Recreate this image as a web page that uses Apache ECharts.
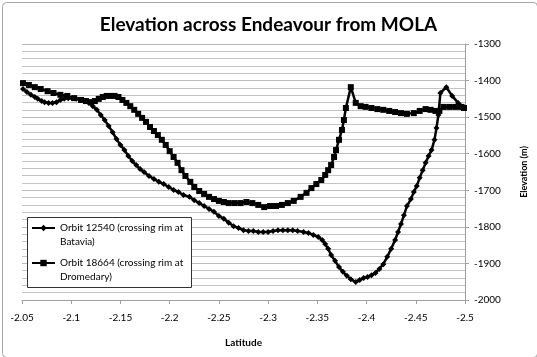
<!DOCTYPE html>
<html>
<head>
<meta charset="utf-8">
<script src="https://cdn.jsdelivr.net/npm/echarts@6/dist/echarts.min.js"></script>
<style>
html,body{margin:0;padding:0;background:#fff;}
#c{width:537px;height:357px;}
</style>
</head>
<body>
<div id="c"></div>
<script>
var titleText = 'Elevation across Endeavour from MOLA';
var nameA = 'Orbit 12540 (crossing rim at\nBatavia)';
var nameB = 'Orbit 18664 (crossing rim at\nDromedary)';
var xTicks = [-2.5, -2.05, 0.05];
var yTicks = [-2000, -1300, 100];

var latA = [-2.051,-2.055,-2.059,-2.063,-2.066,-2.070,-2.073,-2.077,-2.081,-2.085,-2.089,-2.093,-2.097,-2.101,-2.105,-2.110,-2.114,-2.118,-2.122,-2.126,-2.130,-2.134,-2.138,-2.142,-2.146,-2.150,-2.154,-2.158,-2.162,-2.166,-2.170,-2.174,-2.179,-2.184,-2.189,-2.194,-2.199,-2.204,-2.209,-2.214,-2.220,-2.225,-2.230,-2.235,-2.240,-2.245,-2.250,-2.255,-2.260,-2.265,-2.270,-2.275,-2.280,-2.285,-2.290,-2.295,-2.300,-2.305,-2.310,-2.315,-2.320,-2.325,-2.330,-2.336,-2.341,-2.346,-2.351,-2.355,-2.358,-2.361,-2.364,-2.368,-2.372,-2.376,-2.380,-2.384,-2.389,-2.393,-2.397,-2.401,-2.405,-2.409,-2.413,-2.417,-2.421,-2.425,-2.429,-2.432,-2.435,-2.438,-2.441,-2.445,-2.448,-2.451,-2.454,-2.457,-2.460,-2.463,-2.466,-2.469,-2.471,-2.473,-2.475,-2.481,-2.487,-2.493,-2.499];
var elevA = [-1423,-1431,-1439,-1445,-1450,-1456,-1459,-1461,-1461,-1459,-1453,-1450,-1448,-1448,-1450,-1453,-1456,-1461,-1470,-1480,-1494,-1508,-1524,-1541,-1560,-1576,-1590,-1606,-1620,-1631,-1642,-1650,-1661,-1669,-1677,-1683,-1691,-1699,-1705,-1713,-1718,-1727,-1735,-1743,-1751,-1759,-1770,-1778,-1789,-1798,-1803,-1809,-1811,-1811,-1814,-1814,-1814,-1811,-1809,-1809,-1809,-1809,-1811,-1814,-1817,-1822,-1828,-1836,-1847,-1860,-1877,-1893,-1910,-1923,-1934,-1943,-1951,-1945,-1940,-1937,-1932,-1926,-1915,-1902,-1882,-1860,-1836,-1814,-1792,-1768,-1743,-1724,-1705,-1688,-1666,-1645,-1625,-1606,-1590,-1562,-1530,-1494,-1434,-1418,-1442,-1461,-1472];

var latB = [-2.051,-2.057,-2.063,-2.069,-2.076,-2.082,-2.089,-2.096,-2.103,-2.110,-2.115,-2.120,-2.124,-2.128,-2.132,-2.136,-2.140,-2.144,-2.148,-2.152,-2.156,-2.160,-2.164,-2.168,-2.172,-2.176,-2.180,-2.184,-2.188,-2.192,-2.196,-2.200,-2.204,-2.208,-2.212,-2.216,-2.221,-2.225,-2.230,-2.235,-2.240,-2.245,-2.250,-2.255,-2.260,-2.266,-2.272,-2.278,-2.284,-2.290,-2.296,-2.302,-2.308,-2.314,-2.320,-2.326,-2.333,-2.339,-2.344,-2.349,-2.354,-2.358,-2.361,-2.364,-2.367,-2.369,-2.372,-2.375,-2.377,-2.379,-2.384,-2.389,-2.394,-2.399,-2.405,-2.411,-2.417,-2.423,-2.429,-2.435,-2.441,-2.448,-2.454,-2.460,-2.465,-2.470,-2.474,-2.478,-2.484,-2.490,-2.496,-2.499];
var elevB = [-1407,-1412,-1418,-1423,-1429,-1434,-1439,-1442,-1448,-1453,-1456,-1459,-1456,-1450,-1445,-1442,-1442,-1442,-1445,-1453,-1461,-1470,-1480,-1491,-1502,-1513,-1527,-1538,-1549,-1562,-1576,-1593,-1609,-1625,-1645,-1661,-1677,-1691,-1702,-1710,-1718,-1724,-1729,-1732,-1735,-1735,-1735,-1732,-1735,-1740,-1746,-1743,-1743,-1740,-1735,-1729,-1718,-1707,-1694,-1683,-1672,-1658,-1645,-1631,-1609,-1590,-1562,-1535,-1508,-1475,-1418,-1461,-1470,-1472,-1475,-1478,-1480,-1483,-1486,-1489,-1491,-1489,-1483,-1478,-1480,-1483,-1483,-1472,-1472,-1472,-1472,-1475];

function zip(a, b) { return a.map(function (v, i) { return [v, b[i]]; }); }

var FONT = 'Lato';
var chart = echarts.init(document.getElementById('c'), null, {renderer: 'canvas'});
chart.setOption({
  animation: false,
  backgroundColor: '#ffffff',
  textStyle: {fontFamily: FONT},
  title: {
    text: titleText, left: 'center', top: 10,
    textStyle: {fontFamily: FONT, fontSize: 19, fontWeight: 'bold', color: '#000'}
  },
  graphic: [{
    type: 'rect', left: 0, top: 0, z: -10, silent: true,
    shape: {x: 0.5, y: 0.5, width: 535, height: 355, r: 4},
    style: {fill: 'none', stroke: '#a6a6a6', lineWidth: 1}
  }, {
    type: 'rect', z: 3, silent: true,
    shape: {x: 27.5, y: 217.5, width: 164, height: 70},
    style: {fill: '#fff', stroke: '#333', lineWidth: 1}
  }],
  legend: {
    orient: 'vertical', left: 31, top: 207, z: 5,
    padding: 0, itemGap: -7,
    itemWidth: 23, itemHeight: 8,
    formatter: function (n) { return '\n' + n; },
    textStyle: {fontFamily: FONT, fontSize: 10, color: '#000', lineHeight: 14},
    data: [nameA, nameB]
  },
  grid: {left: 22, right: 69, top: 44, bottom: 57},
  xAxis: {
    type: 'value', min: xTicks[0], max: xTicks[1], interval: xTicks[2], inverse: true,
    name: 'Latitude', nameLocation: 'middle', nameGap: 38,
    nameTextStyle: {fontFamily: FONT, fontSize: 10, fontWeight: 'bold', color: '#000'},
    axisLine: {show: true, onZero: false, lineStyle: {color: '#a0a0a0', width: 1}},
    axisTick: {show: true, length: 4, lineStyle: {color: '#a0a0a0'}},
    axisLabel: {fontFamily: FONT, fontSize: 10, color: '#000', margin: 13,
      formatter: function (v) { return String(+v.toFixed(2)); }},
    splitLine: {show: false}
  },
  yAxis: {
    type: 'value', position: 'right', min: yTicks[0], max: yTicks[1], interval: yTicks[2],
    name: 'Elevation (m)', nameLocation: 'middle', nameGap: 55, nameRotate: 90,
    nameTextStyle: {fontFamily: FONT, fontSize: 9, fontWeight: 'bold', color: '#000'},
    axisLine: {show: true, lineStyle: {color: '#a0a0a0', width: 1}},
    axisTick: {show: true, length: 4, lineStyle: {color: '#a0a0a0'}},
    axisLabel: {fontFamily: FONT, fontSize: 10, color: '#000', margin: 9,
      formatter: function (v) { return String(v); }},
    splitLine: {show: true, lineStyle: {color: '#bcbcbc', width: 1}},
    minorTick: {show: false, splitNumber: 5},
    minorSplitLine: {show: true, lineStyle: {color: '#c4c4c4', width: 1}}
  },
  series: [{
    name: nameA, type: 'line', data: zip(latA, elevA),
    symbol: 'diamond', symbolSize: 6, showAllSymbol: true,
    lineStyle: {color: '#000', width: 2.5},
    itemStyle: {color: '#000'}
  }, {
    name: nameB, type: 'line', data: zip(latB, elevB),
    symbol: 'rect', symbolSize: 6, showAllSymbol: true,
    lineStyle: {color: '#000', width: 2.5},
    itemStyle: {color: '#000'}
  }]
});
</script>
</body>
</html>
